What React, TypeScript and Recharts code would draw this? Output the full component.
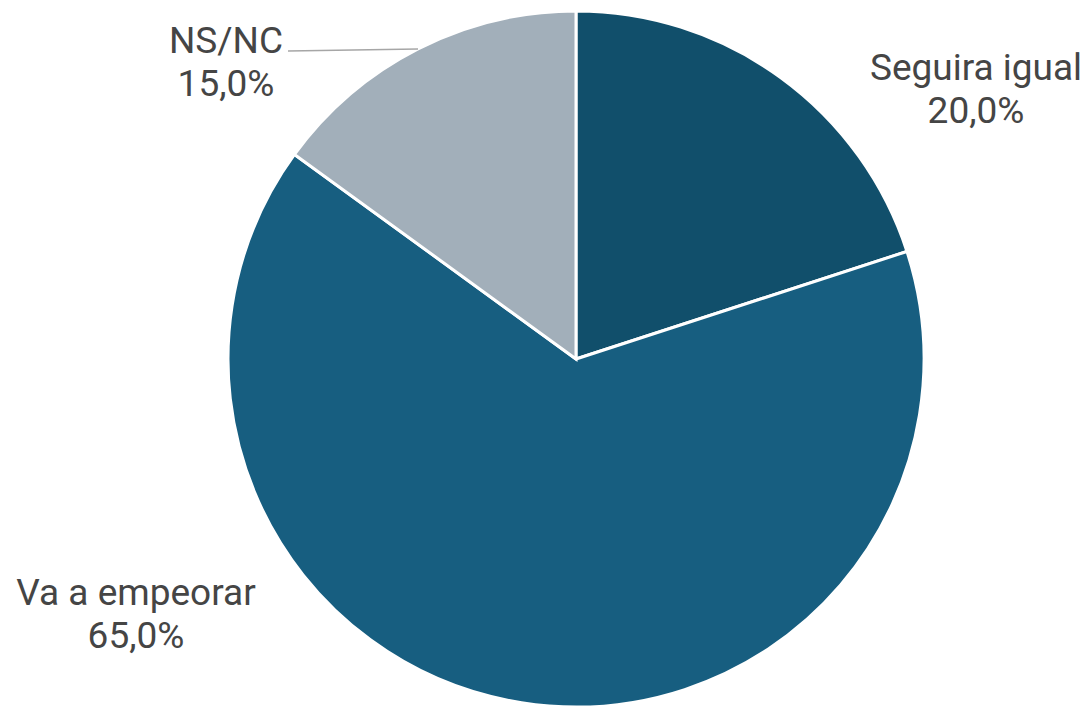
import { Cell, Pie, PieChart } from 'recharts'

const categories = ['Seguira igual', 'Va a empeorar', 'NS/NC']
const values = [20.0, 65.0, 15.0]
const colors = ['#114f6b', '#175e80', '#a2afba']

// label placement relative to pie centre (first baseline), plus optional leader end
const labelSpots = [
  { dx: 400, dy: -279, leader: null },
  { dx: -440, dy: 246, leader: null },
  { dx: -350, dy: -306, leader: { dx: -288, dy: -308 } },
]

const data = categories.map((name, i) => ({ name, value: values[i] }))

const RAD = Math.PI / 180

function renderLabel(props: any) {
  const { cx, cy, midAngle, outerRadius, index, value, name } = props
  const spot = labelSpots[index]
  const x = cx + spot.dx
  const y = cy + spot.dy
  const pct = value.toFixed(1).replace('.', ',') + '%'
  let line = null
  if (spot.leader) {
    const sx = cx + outerRadius * Math.cos(-midAngle * RAD)
    const sy = cy + outerRadius * Math.sin(-midAngle * RAD)
    line = (
      <path
        d={`M${sx},${sy}L${cx + spot.leader.dx},${cy + spot.leader.dy}`}
        stroke='#a6a6a6'
        strokeWidth={1.5}
        fill='none'
      />
    )
  }
  return (
    <g key={'lbl' + index}>
      {line}
      <text x={x} y={y} textAnchor='middle' fill='#454545' fontSize={37} fontFamily='Roboto'>
        {name}
      </text>
      <text x={x} y={y + 43} textAnchor='middle' fill='#454545' fontSize={37} fontFamily='Roboto'>
        {pct}
      </text>
    </g>
  )
}

export default function App() {
  return (
    <div style={{ position: 'absolute', left: 0, top: 0, width: 1091, height: 706, background: '#fff' }}>
      <PieChart width={1091} height={706} margin={{ top: 0, right: 0, bottom: 0, left: 0 }}>
        <Pie
          data={data}
          dataKey='value'
          nameKey='name'
          cx={576}
          cy={359}
          outerRadius={348}
          startAngle={90}
          endAngle={-270}
          stroke='#ffffff'
          strokeWidth={3}
          label={renderLabel}
          labelLine={false}
          isAnimationActive={false}
        >
          {data.map((item, i) => (
            <Cell key={item.name} fill={colors[i]} />
          ))}
        </Pie>
      </PieChart>
    </div>
  )
}
